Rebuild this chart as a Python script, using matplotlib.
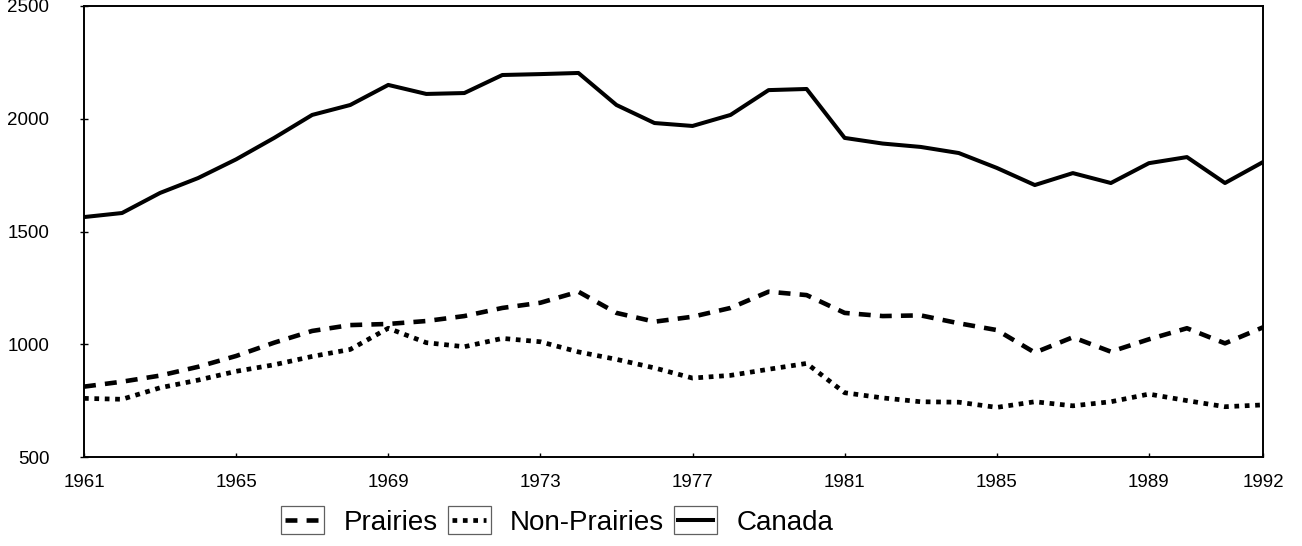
import matplotlib
matplotlib.use("Agg")
import matplotlib.pyplot as plt
from matplotlib.legend_handler import HandlerBase
from matplotlib.patches import Rectangle
from matplotlib.lines import Line2D

plt.rcParams["font.family"] = ["Liberation Sans", "DejaVu Sans"]

# ---- data -------------------------------------------------------------------
years = list(range(1961, 1993))
canada = [1564, 1582, 1671, 1737, 1820, 1915, 2017, 2061, 2150, 2110,
          2114, 2194, 2198, 2203, 2061, 1981, 1968, 2017, 2127, 2132,
          1915, 1890, 1875, 1848, 1782, 1706, 1759, 1715, 1803, 1830,
          1715, 1808]
prairies = [812, 834, 861, 900, 948, 1007, 1059, 1085, 1090, 1103,
            1125, 1161, 1184, 1233, 1139, 1100, 1122, 1161, 1233, 1218,
            1139, 1125, 1128, 1093, 1063, 963, 1031, 967, 1022, 1071,
            1004, 1075]
non_prairies = [760, 756, 807, 841, 880, 909, 946, 977, 1071, 1007,
                989, 1026, 1011, 966, 933, 895, 850, 862, 889, 915,
                785, 762, 745, 743, 720, 745, 727, 745, 779, 750,
                723, 731]
xticks = [1961, 1965, 1969, 1973, 1977, 1981, 1985, 1989, 1992]
yticks = [500, 1000, 1500, 2000, 2500]

DASH = (0, (2.6, 2.0))
DOT = (0, (1.0, 1.2))


class BoxHandler(HandlerBase):
    """legend key drawn as a small framed box with the line style inside"""
    def create_artists(self, legend, orig, xd, yd, w, h, fs, trans):
        pad = 0.22 * h
        box = Rectangle((-xd, -yd - pad), w, h + 2 * pad, fill=False,
                        ec="#606060", lw=0.9, transform=trans)
        y = -yd + h / 2
        ln = Line2D([-xd + 3, -xd + w - 3], [y, y], color="black",
                    lw=orig.get_linewidth(), transform=trans)
        ln.set_linestyle(orig._legend_ls)
        return [box, ln]


fig = plt.figure(figsize=(13.02, 5.46), dpi=100)
ax = fig.add_axes([84 / 1302, 1 - 457 / 546, (1263 - 84) / 1302, 451 / 546])

l1, = ax.plot(years, prairies, color="black", lw=3.3, linestyle=DASH,
              label="Prairies")
l2, = ax.plot(years, non_prairies, color="black", lw=3.4, linestyle=DOT,
              label="Non-Prairies")
l3, = ax.plot(years, canada, color="black", lw=2.9, label="Canada")
l1._legend_ls = DASH
l2._legend_ls = DOT
l3._legend_ls = "-"

ax.set_xlim(1961, 1992)
ax.set_ylim(500, 2500)
ax.set_xticks(xticks)
ax.set_yticks(yticks)
ax.tick_params(axis="x", direction="in", length=3, width=1,
               labelsize=13.5, pad=12)
ax.tick_params(axis="y", direction="inout", length=6, width=1,
               labelsize=13.5, pad=22)
for s in ax.spines.values():
    s.set_linewidth(1.4)

fig.legend(handles=[l1, l2, l3], loc="center", bbox_to_anchor=(0.428, 0.043),
           ncol=3, frameon=False, fontsize=20, handlelength=1.55,
           handleheight=0.7, handletextpad=0.7, columnspacing=0.35,
           borderpad=0.1, handler_map={Line2D: BoxHandler()})

fig.savefig("out.png", dpi=100)
